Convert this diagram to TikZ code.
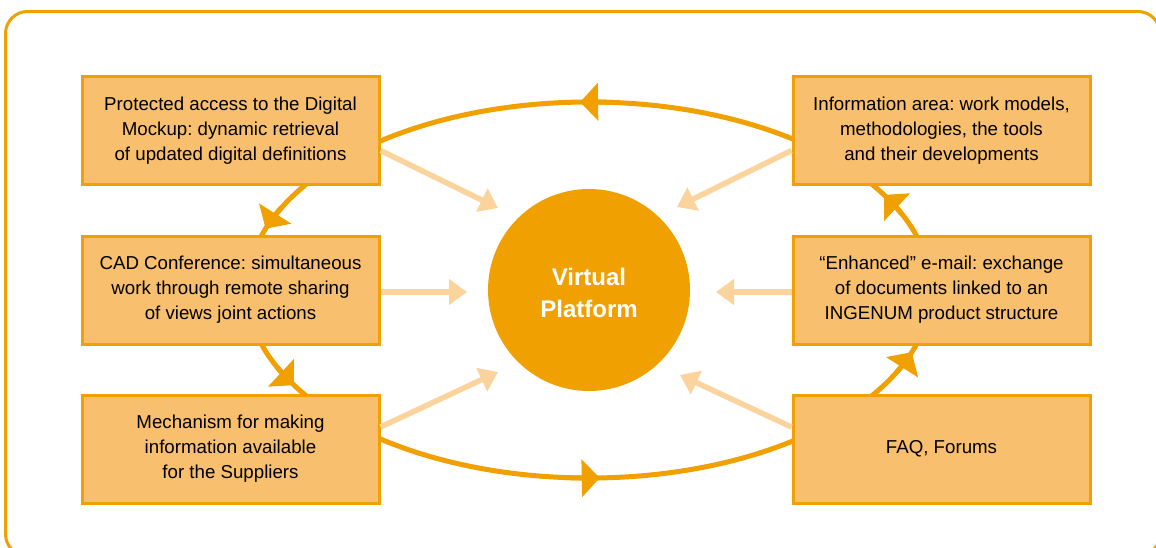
\documentclass[tikz,border=0pt]{standalone}
\usepackage{fontspec}
\setmainfont{Liberation Sans}
\usetikzlibrary{arrows.meta,calc}
\definecolor{vporange}{HTML}{F0A000}
\definecolor{vpfill}{HTML}{F7BF6E}
\definecolor{vplight}{HTML}{FAD49C}
\frenchspacing

\begin{document}
\begin{tikzpicture}[x=1pt,y=-1pt,
  infobox/.style={draw=vporange, fill=vpfill, line width=3pt,
    minimum width=297pt, minimum height=108pt, inner sep=0pt,
    align=center, text=black, font=\fontsize{18.7}{25}\selectfont},
  hub/.style={circle, fill=vporange, minimum size=202pt, inner sep=0pt},
  hubtext/.style={align=center, text=white, inner sep=0pt,
    font=\bfseries\fontsize{24}{32}\selectfont},
  feed/.style={draw=vplight, line width=5.5pt, -{Triangle[length=18pt,width=25pt]}},
  cycleline/.style={draw=vporange, line width=5pt},
  cycletip/.style={draw=vporange, line width=5pt, -{Triangle[length=18pt,width=37pt]}},
]
\useasboundingbox (0,0) rectangle (1156,547);
\clip (0,0) rectangle (1156,547);

% outer frame
\draw[vporange, line width=3pt, rounded corners=22pt] (5.5,11.5) rectangle (1160,556);

% exchange cycle around the platform
\coordinate (o) at (589,290);
\draw[cycleline] (o) ellipse [x radius=342, y radius=188];
\foreach \a/\b in {-86/-91.5, -154/-161, -204/-210.4, -266/-271.8, -334/-340.7, -24/-30.4}
  \draw[cycletip] ($(o)+(\a:342 and 188)$) arc[start angle=\a, end angle=\b, x radius=342, y radius=188];

% services
\node[infobox] (tl) at (230.5,130.5) {Protected access to the Digital\\Mockup: dynamic retrieval\\of updated digital definitions};
\node[infobox] (ml) at (230.5,290) {CAD Conference: simultaneous\\work through remote sharing\\of views joint actions};
\node[infobox] (bl) at (230.5,449) {Mechanism for making\\information available\\for the Suppliers};
\node[infobox] (tr) at (941.5,130.5) {Information area: work models,\\methodologies, the tools\\and their developments};
\node[infobox] (mr) at (941.5,290) {“Enhanced” e-mail: exchange\\of documents linked to an\\INGENUM product structure};
\node[infobox] (br) at (941.5,449) {FAQ, Forums};

% platform hub
\node[hub] (vp) at (o) {};
\node[hubtext] (vplabel) at ($(o)+(0,3)$) {Virtual\\Platform};

% feeds into the hub
\coordinate (tlin) at (498,208);
\coordinate (mlin) at (467,292);
\coordinate (blin) at (498,372);
\coordinate (trin) at (677,207);
\coordinate (mrin) at (716,292);
\coordinate (brin) at (680,375);
\draw[feed] ($(tl.east)+(0,20)$) -- (tlin);
\draw[feed] ($(ml.east)+(0,2)$) -- (mlin);
\draw[feed] ($(bl.east)+(0,-22)$) -- (blin);
\draw[feed] ($(tr.west)+(0,20)$) -- (trin);
\draw[feed] ($(mr.west)+(0,2)$) -- (mrin);
\draw[feed] ($(br.west)+(0,-22)$) -- (brin);
\end{tikzpicture}
\end{document}
